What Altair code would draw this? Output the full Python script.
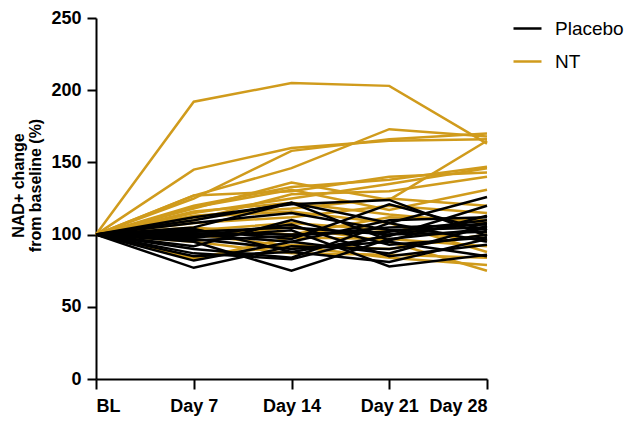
import altair as alt
import pandas as pd

days = [0, 7, 14, 21, 28]
day_labels = ["BL", "Day 7", "Day 14", "Day 21", "Day 28"]
groups = ["Placebo", "NT"]
colors = ["#000000", "#D09B1C"]

placebo = [
    [100, 110, 122, 108, 126],
    [100, 112, 121, 124, 99],
    [100, 105, 122, 96, 113],
    [100, 103, 97, 121, 103],
    [100, 82, 95, 87, 106],
    [100, 77, 92, 90, 100],
    [100, 95, 75, 97, 104],
    [100, 90, 84, 108, 95],
    [100, 98, 103, 78, 86],
    [100, 101, 100, 102, 110],
    [100, 96, 99, 105, 107],
    [100, 92, 110, 93, 98],
    [100, 104, 88, 99, 120],
    [100, 99, 107, 85, 93],
    [100, 87, 83, 100, 102],
    [100, 100, 95, 110, 112],
    [100, 85, 88, 81, 97],
    [100, 108, 115, 103, 105],
    [100, 97, 90, 95, 85],
    [100, 102, 105, 100, 108],
]

nt = [
    [100, 192, 205, 203, 163],
    [100, 145, 160, 165, 166],
    [100, 127, 146, 173, 168],
    [100, 125, 158, 166, 170],
    [100, 120, 133, 138, 147],
    [100, 118, 136, 124, 165],
    [100, 127, 130, 140, 143],
    [100, 115, 125, 135, 146],
    [100, 110, 128, 130, 140],
    [100, 119, 131, 117, 131],
    [100, 113, 118, 125, 120],
    [100, 108, 112, 120, 115],
    [100, 105, 100, 112, 110],
    [100, 84, 93, 90, 100],
    [100, 83, 98, 97, 92],
    [100, 95, 87, 86, 84],
    [100, 98, 105, 95, 75],
    [100, 112, 116, 108, 88],
    [100, 100, 92, 84, 79],
    [100, 103, 108, 103, 96],
    [100, 116, 122, 114, 108],
]

rows = []
for gname, series in (("Placebo", placebo), ("NT", nt)):
    for i, s in enumerate(series):
        for d, v in zip(days, s):
            rows.append({"subject": f"{gname}-{i}", "group": gname, "day": d, "value": v})
df = pd.DataFrame(rows)

label_expr = "datum.value == 0 ? 'BL' : 'Day ' + datum.value"

x = alt.X("day:Q", scale=alt.Scale(domain=[0, 28], nice=False, zero=False),
          axis=alt.Axis(values=days, labelExpr=label_expr, title=None, grid=False,
                        tickSize=10, labelPadding=8))
y = alt.Y("value:Q", scale=alt.Scale(domain=[0, 250], nice=False),
          axis=alt.Axis(values=[0, 50, 100, 150, 200, 250], title=["NAD+ change", "from baseline (%)"],
                        grid=False, tickSize=9, labelPadding=6, titlePadding=7,
                        titleLineHeight=17, titleY=167))
color = alt.Color("group:N", scale=alt.Scale(domain=groups, range=colors),
                  legend=alt.Legend(title=None, orient="none", legendX=416, legendY=-5,
                                    symbolType="stroke", symbolSize=784, symbolStrokeWidth=2.5,
                                    labelFontSize=19, labelFont="Liberation Sans", labelColor="black",
                                    labelOffset=12, rowPadding=7, padding=0))

base = alt.Chart(df).mark_line(strokeWidth=2.5).encode(
    x=x, y=y, color=color, detail="subject:N"
)
nt_layer = base.transform_filter(alt.datum.group == "NT")
pl_layer = base.transform_filter(alt.datum.group == "Placebo")

chart = alt.layer(nt_layer, pl_layer).properties(
    width=391, height=361,
    autosize=alt.AutoSizeParams(type="none"),
    padding={"left": 88, "top": 10, "right": 138, "bottom": 39},
).configure_view(stroke=None).configure_axis(
    domainColor="black", domainWidth=2, tickColor="black", tickWidth=2,
    labelFontSize=18, labelFontWeight="bold", labelColor="black", labelFont="Liberation Sans",
    titleFontSize=16, titleFontWeight="bold", titleFont="Liberation Sans", titleColor="black",
)

chart.save("out.html", embed_options={"renderer": "svg", "actions": False})
